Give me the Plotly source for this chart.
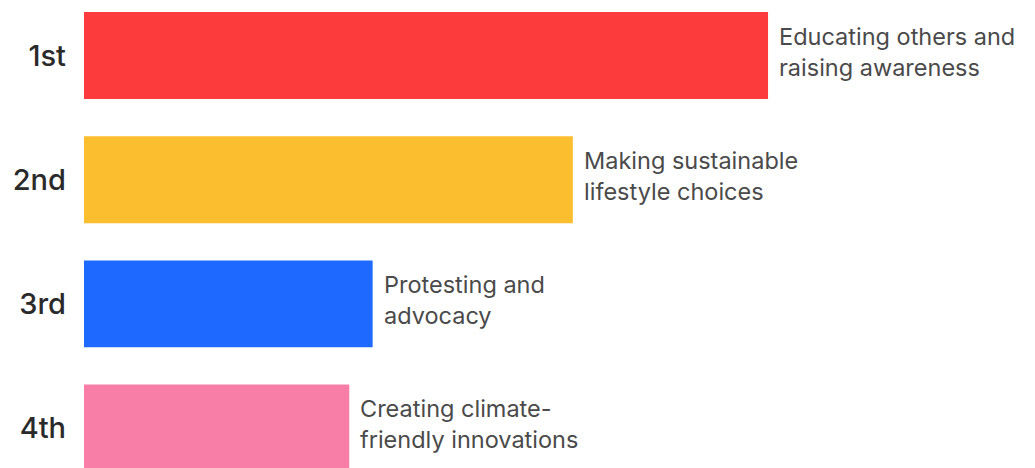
import plotly.graph_objects as go

# Ranked ways of taking climate action
ranks = ["1st", "2nd", "3rd", "4th"]
actions = [
    "Educating others and<br>raising awareness",
    "Making sustainable<br>lifestyle choices",
    "Protesting and<br>advocacy",
    "Creating climate-<br>friendly innovations",
]
shares = [41.0, 29.3, 17.3, 15.9]
colors = ["#FC3C3C", "#FBBE2F", "#1E69FF", "#F97EA7"]

fig = go.Figure(
    go.Bar(
        x=shares,
        y=ranks,
        orientation="h",
        marker=dict(color=colors, line=dict(width=0)),
        width=0.70,
        hoverinfo="skip",
    )
)

# Descriptive labels to the right of each bar
for rank, value, text in zip(ranks, shares, actions):
    fig.add_annotation(
        x=value,
        y=rank,
        xref="x",
        yref="y",
        text=text,
        showarrow=False,
        xanchor="left",
        yanchor="middle",
        align="left",
        xshift=9,
        yshift=4,
        font=dict(family="Inter, Lato, sans-serif", size=23.5, color="#4a4a4a"),
    )

fig.update_layout(
    width=1035,
    height=468,
    margin=dict(l=84, r=0, t=0, b=0),
    paper_bgcolor="white",
    plot_bgcolor="white",
    showlegend=False,
    xaxis=dict(
        range=[0, 57.0],
        visible=False,
        fixedrange=True,
    ),
    yaxis=dict(
        type="category",
        categoryorder="array",
        categoryarray=ranks,
        range=[3.322, -0.447],
        showgrid=False,
        zeroline=False,
        showline=False,
        ticks="",
        ticklabelstandoff=17,
        tickfont=dict(family="Inter, Lato, sans-serif", size=29, weight=500, color="#2a2a2a"),
    ),
)

fig.write_html("out.html")
